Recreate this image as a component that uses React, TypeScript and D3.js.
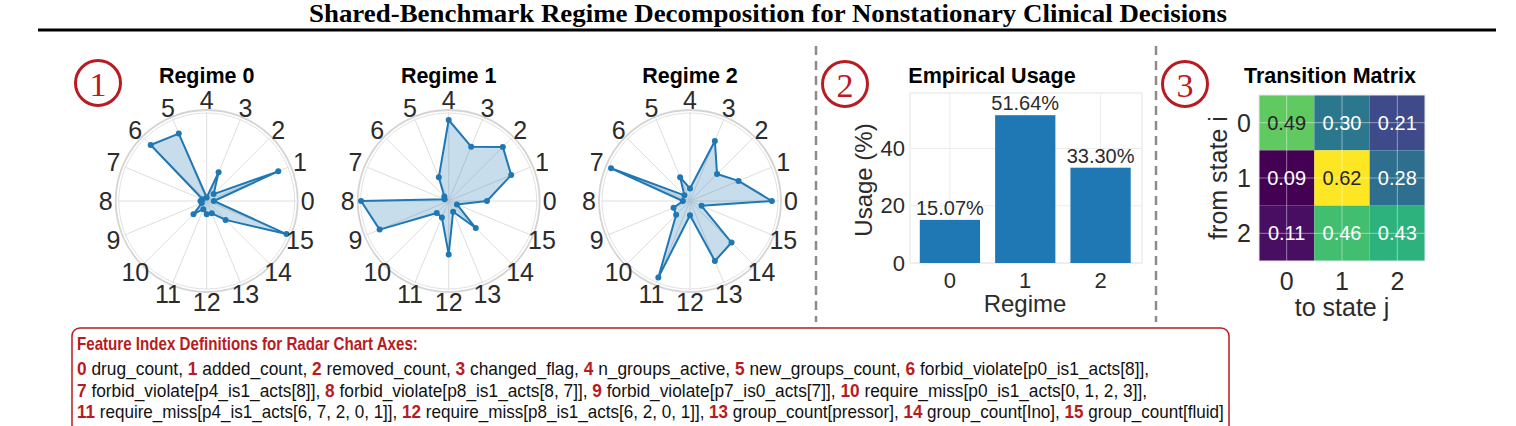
import React, { useEffect, useRef } from 'react';
import * as d3 from 'd3';

// ---- data ----
const TITLE = 'Shared-Benchmark Regime Decomposition for Nonstationary Clinical Decisions';

const AXIS_LABELS = ['0', '1', '2', '3', '4', '5', '6', '7', '8', '9', '10', '11', '12', '13', '14', '15'];
const REGIME_TITLES = ['Regime 0', 'Regime 1', 'Regime 2'];
// normalised feature profile per regime (radius fraction)
const REGIME_0 = [0.08, 0.87, 0.11, 0.35, 0.04, 0.82, 0.89, 0.05, 0.07, 0.06, 0.21, 0.10, 0.15, 0.15, 0.30, 0.97];
const REGIME_1 = [0.43, 0.76, 0.86, 0.66, 0.91, 0.29, 0.07, 0.05, 0.985, 0.84, 0.19, 0.20, 0.60, 0.13, 0.43, 0.10];
const REGIME_2 = [0.92, 0.59, 0.43, 0.73, 0.14, 0.29, 0.09, 0.96, 0.08, 0.20, 0.22, 0.93, 0.16, 0.73, 0.66, 0.14];

const USAGE_CATEGORIES = ['0', '1', '2'];
const USAGE_VALUES = [15.07, 51.64, 33.3];
const USAGE_TICKS = [0, 20, 40];

const STATES = ['0', '1', '2'];
const TRANSITION = [
  [0.49, 0.30, 0.21],
  [0.09, 0.62, 0.28],
  [0.11, 0.46, 0.43],
];

const FEATURE_NAMES = [
  'drug_count', 'added_count', 'removed_count', 'changed_flag', 'n_groups_active', 'new_groups_count',
  'forbid_violate[p0_is1_acts[8]]', 'forbid_violate[p4_is1_acts[8]]', 'forbid_violate[p8_is1_acts[8, 7]]',
  'forbid_violate[p7_is0_acts[7]]', 'require_miss[p0_is1_acts[0, 1, 2, 3]]',
  'require_miss[p4_is1_acts[6, 7, 2, 0, 1]]', 'require_miss[p8_is1_acts[6, 2, 0, 1]]',
  'group_count[pressor]', 'group_count[Ino]', 'group_count[fluid]',
];
const FEATURE_ROWS = [[0, 1, 2, 3, 4, 5, 6], [7, 8, 9, 10], [11, 12, 13, 14, 15]];

const SANS = '"Liberation Sans", Arial, sans-serif';
const SERIF = '"Liberation Serif", "Times New Roman", serif';
const BLUE = '#1f77b4';
const RED = '#b81c22';
const TICK = '#2b2b2b';

// seaborn-style annotation colour choice
function relLum(c: string) {
  const rgb = d3.rgb(c);
  const lin = (v: number) => {
    const s = v / 255;
    return s <= 0.03928 ? s / 12.92 : Math.pow((s + 0.055) / 1.055, 2.4);
  };
  return 0.2126 * lin(rgb.r) + 0.7152 * lin(rgb.g) + 0.0722 * lin(rgb.b);
}

function circled(g: any, cx: number, cy: number, n: string) {
  g.append('circle')
    .attr('cx', cx).attr('cy', cy).attr('r', 22.5)
    .attr('fill', 'none').attr('stroke', RED).attr('stroke-width', 3);
  g.append('text')
    .attr('x', cx).attr('y', cy + 1)
    .attr('text-anchor', 'middle').attr('dominant-baseline', 'central')
    .style('font-family', SERIF).style('font-size', '34px').style('fill', RED)
    .text(n);
}

export default function App() {
  const svgRef = useRef<SVGSVGElement>(null);

  useEffect(() => {
    if (!svgRef.current) return;
    const svg = d3.select(svgRef.current);
    svg.selectAll('*').remove();

    // Title + rule
    svg.append('text')
      .attr('x', 768).attr('y', 22)
      .attr('text-anchor', 'middle')
      .attr('textLength', 918).attr('lengthAdjust', 'spacingAndGlyphs')
      .style('font-family', SERIF).style('font-weight', 'bold').style('font-size', '26px')
      .style('fill', '#000')
      .text(TITLE);
    svg.append('line')
      .attr('x1', 38).attr('x2', 1496).attr('y1', 30).attr('y2', 30)
      .attr('stroke', '#000').attr('stroke-width', 3);

    // ---- radar panels ----
    const regimes = [REGIME_0, REGIME_1, REGIME_2];
    const centers = [206.7, 448.7, 690];
    const cy = 201;
    const R = 89;
    const rScale = d3.scaleLinear().domain([0, 1]).range([0, R]);
    const angleScale = d3.scaleLinear().domain([0, AXIS_LABELS.length]).range([0, 2 * Math.PI]);
    // d3 radial angle: clockwise from north; axis 0 points east, counter-clockwise
    const a = (i: number) => Math.PI / 2 - angleScale(i);
    const radarLine = d3.lineRadial<number>()
      .angle((_d, i) => a(i))
      .radius(d => rScale(d))
      .curve(d3.curveLinearClosed);

    regimes.forEach((vals, k) => {
      const g = svg.append('g').attr('transform', `translate(${centers[k]},${cy})`);

      AXIS_LABELS.forEach((_l, i) => {
        g.append('line')
          .attr('x1', 0).attr('y1', 0)
          .attr('x2', R * Math.sin(a(i))).attr('y2', -R * Math.cos(a(i)))
          .attr('stroke', '#dedede').attr('stroke-width', 1);
      });
      g.append('circle').attr('r', R - 1).attr('fill', 'none')
        .attr('stroke', '#e2e2e2').attr('stroke-width', 1);
      g.append('circle').attr('r', R + 2).attr('fill', 'none')
        .attr('stroke', '#d4d4d4').attr('stroke-width', 1.8);

      g.append('path')
        .attr('d', radarLine(vals) as string)
        .attr('fill', BLUE).attr('fill-opacity', 0.25)
        .attr('stroke', BLUE).attr('stroke-width', 2).attr('stroke-linejoin', 'round');

      g.selectAll('.pt')
        .data(vals)
        .enter()
        .append('circle')
        .attr('class', 'pt')
        .attr('cx', (d, i) => rScale(d) * Math.sin(a(i)))
        .attr('cy', (d, i) => -rScale(d) * Math.cos(a(i)))
        .attr('r', 3)
        .attr('fill', BLUE);

      AXIS_LABELS.forEach((l, i) => {
        g.append('text')
          .attr('x', 101 * Math.sin(a(i))).attr('y', -101 * Math.cos(a(i)))
          .attr('text-anchor', 'middle').attr('dominant-baseline', 'central')
          .style('font-family', SANS).style('font-size', '25px').style('fill', TICK)
          .text(l);
      });

      svg.append('text')
        .attr('x', centers[k]).attr('y', 83)
        .attr('text-anchor', 'middle')
        .style('font-family', SANS).style('font-weight', 'bold').style('font-size', '21.5px')
        .style('fill', '#000')
        .text(REGIME_TITLES[k]);
    });

    circled(svg, 98, 83, '1');
    circled(svg, 845, 84, '2');
    circled(svg, 1185, 84, '3');

    // separators
    [816, 1156].forEach(x => {
      svg.append('line')
        .attr('x1', x).attr('x2', x).attr('y1', 46).attr('y2', 322)
        .attr('stroke', '#8c8c8c').attr('stroke-width', 2.5).attr('stroke-dasharray', '9,6');
    });

    // ---- usage bar chart ----
    const xB = d3.scaleLinear().domain([-0.53, 2.55]).range([910, 1142]);
    const yB = d3.scaleLinear().domain([0, 59.4]).range([263, 93]);
    const bg = svg.append('g');
    bg.append('rect')
      .attr('x', xB.range()[0]).attr('y', yB.range()[1])
      .attr('width', xB.range()[1] - xB.range()[0]).attr('height', yB.range()[0] - yB.range()[1])
      .attr('fill', '#fff').attr('stroke', '#e3e3e3').attr('stroke-width', 1);
    USAGE_TICKS.forEach(t => {
      bg.append('line')
        .attr('x1', xB.range()[0]).attr('x2', xB.range()[1])
        .attr('y1', yB(t)).attr('y2', yB(t))
        .attr('stroke', '#ececec').attr('stroke-width', 1);
      bg.append('text')
        .attr('x', 905).attr('y', yB(t))
        .attr('text-anchor', 'end').attr('dominant-baseline', 'central')
        .style('font-family', SANS).style('font-size', '22px').style('fill', TICK)
        .text(String(t));
    });
    USAGE_CATEGORIES.forEach((c, i) => {
      bg.append('line')
        .attr('x1', xB(i)).attr('x2', xB(i))
        .attr('y1', yB.range()[0]).attr('y2', yB.range()[1])
        .attr('stroke', '#ececec').attr('stroke-width', 1);
      bg.append('text')
        .attr('x', xB(i)).attr('y', 280)
        .attr('text-anchor', 'middle').attr('dominant-baseline', 'central')
        .style('font-family', SANS).style('font-size', '22px').style('fill', TICK)
        .text(c);
    });
    bg.selectAll('.bar')
      .data(USAGE_VALUES)
      .enter()
      .append('rect')
      .attr('class', 'bar')
      .attr('x', (_d, i) => xB(i - 0.4))
      .attr('width', xB(0.4) - xB(-0.4))
      .attr('y', d => yB(d))
      .attr('height', d => yB(0) - yB(d))
      .attr('fill', BLUE);
    bg.selectAll('.barlabel')
      .data(USAGE_VALUES)
      .enter()
      .append('text')
      .attr('class', 'barlabel')
      .attr('x', (_d, i) => xB(i))
      .attr('y', d => yB(d) - 5)
      .attr('text-anchor', 'middle')
      .style('font-family', SANS).style('font-size', '20px').style('fill', TICK)
      .text(d => `${d.toFixed(2)}%`);
    bg.append('text')
      .attr('x', 992).attr('y', 83)
      .attr('text-anchor', 'middle')
      .style('font-family', SANS).style('font-weight', 'bold').style('font-size', '21.5px')
      .text('Empirical Usage');
    bg.append('text')
      .attr('transform', 'translate(863,180) rotate(-90)')
      .attr('text-anchor', 'middle').attr('dominant-baseline', 'central')
      .style('font-family', SANS).style('font-size', '24px').style('fill', TICK)
      .text('Usage (%)');
    bg.append('text')
      .attr('x', 1025).attr('y', 303)
      .attr('text-anchor', 'middle').attr('dominant-baseline', 'central')
      .style('font-family', SANS).style('font-size', '24px').style('fill', TICK)
      .text('Regime');

    // ---- transition heatmap ----
    const xH = d3.scaleLinear().domain([-0.5, 2.5]).range([1259, 1425]);
    const yH = d3.scaleLinear().domain([-0.5, 2.5]).range([95, 261]);
    const color = d3.scaleSequential(d3.interpolateViridis)
      .domain(d3.extent(TRANSITION.flat()) as [number, number]);
    const hg = svg.append('g');
    TRANSITION.forEach((row, r) => {
      row.forEach((v, c) => {
        hg.append('rect')
          .attr('x', xH(c - 0.5)).attr('y', yH(r - 0.5))
          .attr('width', xH(c + 0.5) - xH(c - 0.5)).attr('height', yH(r + 0.5) - yH(r - 0.5))
          .attr('fill', color(v));
      });
    });
    STATES.forEach((_s, i) => {
      hg.append('line')
        .attr('x1', xH(i)).attr('x2', xH(i)).attr('y1', yH(-0.5)).attr('y2', yH(2.5))
        .attr('stroke', '#fff').attr('stroke-opacity', 0.45).attr('stroke-width', 1);
      hg.append('line')
        .attr('y1', yH(i)).attr('y2', yH(i)).attr('x1', xH(-0.5)).attr('x2', xH(2.5))
        .attr('stroke', '#fff').attr('stroke-opacity', 0.45).attr('stroke-width', 1);
    });
    TRANSITION.forEach((row, r) => {
      row.forEach((v, c) => {
        hg.append('text')
          .attr('x', xH(c)).attr('y', yH(r))
          .attr('text-anchor', 'middle').attr('dominant-baseline', 'central')
          .style('font-family', SANS).style('font-size', '20px')
          .style('fill', relLum(color(v)) > 0.408 ? '#262626' : '#ffffff')
          .text(v.toFixed(2));
      });
    });
    hg.append('rect')
      .attr('x', xH(-0.5)).attr('y', yH(-0.5))
      .attr('width', xH(2.5) - xH(-0.5)).attr('height', yH(2.5) - yH(-0.5))
      .attr('fill', 'none').attr('stroke', '#e8e8e8').attr('stroke-width', 1);
    STATES.forEach((s, i) => {
      hg.append('text')
        .attr('x', 1251).attr('y', yH(i))
        .attr('text-anchor', 'end').attr('dominant-baseline', 'central')
        .style('font-family', SANS).style('font-size', '25px').style('fill', TICK)
        .text(s);
      hg.append('text')
        .attr('x', xH(i)).attr('y', 281)
        .attr('text-anchor', 'middle').attr('dominant-baseline', 'central')
        .style('font-family', SANS).style('font-size', '25px').style('fill', TICK)
        .text(s);
    });
    hg.append('text')
      .attr('x', 1330).attr('y', 83)
      .attr('text-anchor', 'middle')
      .style('font-family', SANS).style('font-weight', 'bold').style('font-size', '21.5px')
      .text('Transition Matrix');
    hg.append('text')
      .attr('transform', 'translate(1218,178) rotate(-90)')
      .attr('text-anchor', 'middle').attr('dominant-baseline', 'central')
      .style('font-family', SANS).style('font-size', '25px').style('fill', TICK)
      .text('from state i');
    hg.append('text')
      .attr('x', 1342).attr('y', 307)
      .attr('text-anchor', 'middle').attr('dominant-baseline', 'central')
      .style('font-family', SANS).style('font-size', '25px').style('fill', TICK)
      .text('to state j');

    // ---- feature legend box ----
    svg.append('rect')
      .attr('x', 72).attr('y', 328).attr('width', 1157).attr('height', 130)
      .attr('rx', 8).attr('fill', '#fff')
      .attr('stroke', RED).attr('stroke-width', 1.5);

    // squeeze a text line horizontally so it spans targetW
    const fitLine = (y: number, targetW: number, build: (t: any) => void) => {
      const lg = svg.append('g');
      const t = lg.append('text').attr('x', 0).attr('y', 0)
        .style('font-family', SANS).style('font-size', '17.5px');
      build(t);
      const w = (t.node() as SVGTextElement).getComputedTextLength() || targetW;
      lg.attr('transform', `translate(77,${y}) scale(${targetW / w},1)`);
    };

    fitLine(350, 341, t => {
      t.style('font-weight', 'bold').style('font-size', '18px').style('fill', RED)
        .text('Feature Index Definitions for Radar Chart Axes:');
    });

    const rowBaselines = [375, 397, 418];
    const rowWidths = [1073, 1071, 1148];
    FEATURE_ROWS.forEach((idxs, r) => {
      fitLine(rowBaselines[r], rowWidths[r], t => {
        idxs.forEach((idx, j) => {
          t.append('tspan').style('font-weight', 'bold').style('fill', RED)
            .text(`${j === 0 ? '' : ' '}${idx}`);
          const last = j === idxs.length - 1;
          const tail = last ? (r < FEATURE_ROWS.length - 1 ? ',' : '') : ',';
          t.append('tspan').style('fill', '#111').text(` ${FEATURE_NAMES[idx]}${tail}`);
        });
      });
    });
  }, []);

  return (
    <svg
      ref={svgRef}
      width={1516}
      height={426}
      style={{ position: 'absolute', left: 0, top: 0, background: '#fff' }}
    />
  );
}
